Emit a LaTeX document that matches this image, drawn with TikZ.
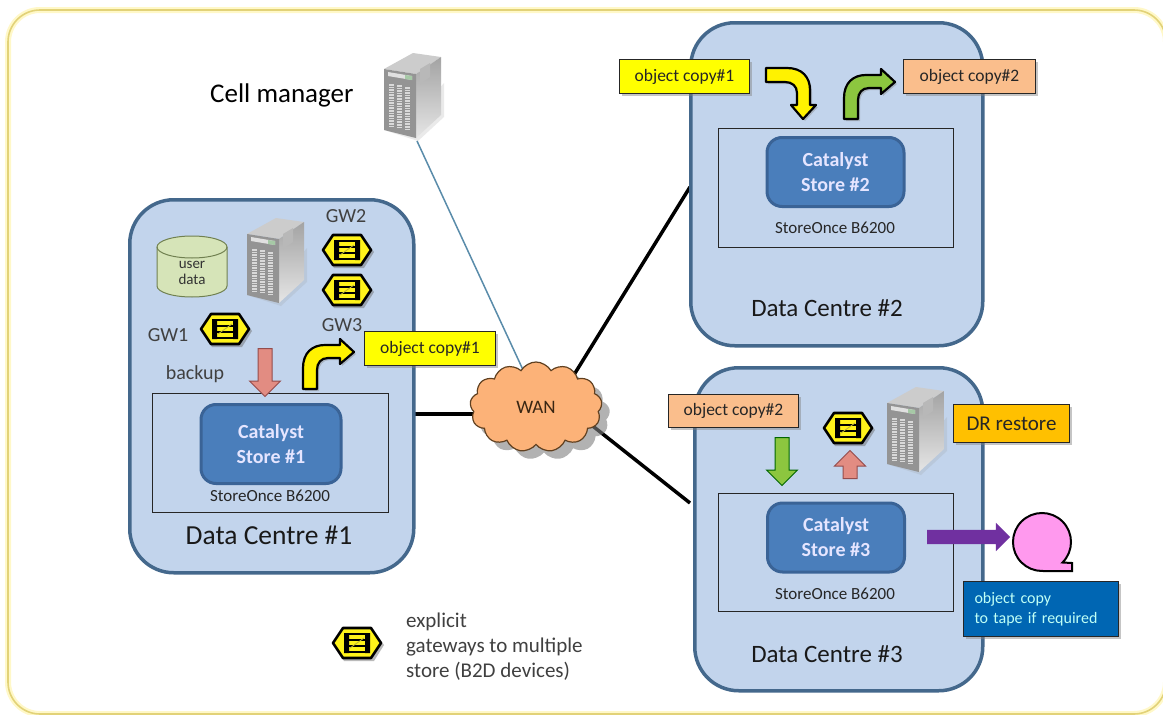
\documentclass[tikz,border=0pt]{standalone}
\usepackage{fontspec}
\setmainfont{Carlito}
\usepackage{tikz}
\usetikzlibrary{positioning,shapes.symbols,shapes.arrows,shadows,backgrounds}
\definecolor{framecolor}{RGB}{226,210,120}
\definecolor{frameglow}{RGB}{255,248,200}
\definecolor{dcfill}{RGB}{194,212,236}
\definecolor{dcline}{RGB}{68,104,140}
\definecolor{storefill}{RGB}{74,126,187}
\definecolor{storeline}{RGB}{58,99,150}
\definecolor{copyyellow}{RGB}{255,255,0}
\definecolor{copyorange}{RGB}{250,190,140}
\definecolor{drorange}{RGB}{255,192,0}
\definecolor{tapeblue}{RGB}{0,102,179}
\definecolor{tapepink}{RGB}{255,153,238}
\definecolor{wanfill}{RGB}{252,178,120}
\definecolor{arrowgreen}{RGB}{140,198,63}
\definecolor{arrowpink}{RGB}{226,140,130}
\definecolor{arrowpurple}{RGB}{112,48,160}
\definecolor{datafill}{RGB}{214,228,184}
\definecolor{dataline}{RGB}{112,128,80}
\definecolor{celllink}{RGB}{90,140,170}
\tikzset{
  pics/gateway/.style={code={
    \fill[black!60,opacity=.45] (-23,2)--(-13,18)--(17,18)--(27,2)--(17,-12)--(-13,-12)--cycle;
    \draw[line width=2.6pt,fill=yellow!90!white,line join=round] (-24,0)--(-14,-15)--(14,-15)--(24,0)--(14,15)--(-14,15)--cycle;
    \fill[black] (-13,-10) rectangle (-8,10) (8,-10) rectangle (13,10);
    \draw[line width=2pt] (-8,-9)--(8,-9) (-8,-3.5)--(8,-3.5) (-8,2.5)--(8,2.5) (-8,9)--(8,9);
    \draw[line width=.8pt,yellow!70!black] (-7,5)--(7,-5);
  }},
  pics/server/.style={code={
    \fill[black!40,opacity=.2] (3,78)--(34,88)--(60,64)--(60,30)--(34,60)--cycle;
    \fill[black!20] (0,16)--(29,0)--(57,4)--(32,21)--cycle;
    \shade[top color=black!36,bottom color=black!10] (32,21)--(57,4)--(57,62)--(32,85)--cycle;
    \fill[black!42] (0,16)--(32,21)--(32,85)--(0,77)--cycle;
    \fill[black!28] (36,16)--(46,10)--(46,24)--(36,31)--cycle;
    \fill[black!12] (4,19)--(28,23)--(28,27)--(4,23)--cycle;
    \fill[green!40!black!35] (21,22)--(28,23)--(28,27)--(21,26)--cycle;
    \draw[line width=5.5pt,white!85!black,dash pattern=on 1.6pt off 1pt] (7.5,31)--(7.5,74) (15.5,32)--(15.5,76) (23.5,34)--(23.5,77);
    \coordinate (-base) at (33,88);
  }},
  pics/bendarrow/.style={code={
    \path[draw=black,line width=2.2pt,line join=round,fill=#1,drop shadow={shadow xshift=2pt,shadow yshift=-2pt,opacity=.4}]
      (0,0)--(0,-21) .. controls (0,-36) and (9,-44) .. (22,-44)--(37,-44)--(37,-50)--(51,-37)--(37,-25)--(37,-31)--(25,-31)
      .. controls (18,-31) and (14,-26) .. (14,-19)--(14,0)--cycle;
  }},
}
\begin{document}
\begin{tikzpicture}[x=1pt,y=-1pt,font=\fontsize{17.5}{21}\selectfont]
 \tikzstyle{dcbox}=[draw=dcline,fill=dcfill,line width=3.5pt,rounded corners=44pt,anchor=north west,inner sep=0pt]
 \tikzstyle{devbox}=[draw=black!85,line width=1pt,anchor=north west,inner sep=0pt]
 \tikzstyle{catalyst}=[draw=storeline,fill=storefill,line width=3pt,rounded corners=15pt,inner sep=0pt,
    text=blue!10!white,align=center,font=\fontsize{20}{25}\selectfont\bfseries]
 \tikzstyle{copybox}=[draw=black!85,line width=1pt,inner sep=0pt,anchor=north west,
    drop shadow={shadow xshift=2.5pt,shadow yshift=-2.5pt,opacity=.45},text=black!85]
 \tikzstyle{downarrow}=[single arrow,rotate=-90,line width=1pt,inner xsep=0pt,inner ysep=6.5pt,minimum width=30pt,
    single arrow head extend=8.5pt,minimum height=48pt]
 \tikzstyle{thickline}=[line width=3.5pt,black]
 \tikzstyle{gwlabel}=[text=black!75,font=\fontsize{20}{24}\selectfont]
 \tikzstyle{dctitle}=[text=black!90,font=\fontsize{25}{30}\selectfont]
 \tikzstyle{b6200}=[text=black!85,font=\fontsize{17}{20}\selectfont]

 \useasboundingbox (0,0) rectangle (1163,715);

 % data centres
 \node[dcbox,minimum width=284pt,minimum height=373pt] (dc1) at (128,198) {};
 \node[dcbox,minimum width=292pt,minimum height=323pt] (dc2) at (689,21) {};
 \node[dcbox,minimum width=288pt,minimum height=323pt] (dc3) at (693,366) {};

 \node[devbox,minimum width=236pt,minimum height=119pt] (box1) at (152,393) {};
 \node[devbox,minimum width=235pt,minimum height=119pt] (box2) at (718,128) {};
 \node[devbox,minimum width=235pt,minimum height=118pt] (box3) at (718,493) {};

 \node[catalyst,minimum width=140pt,minimum height=79pt] (store1) at (271,444) {Catalyst\\Store \#1};
 \node[catalyst,minimum width=137pt,minimum height=69pt] (store2) at (835.5,172) {Catalyst\\Store \#2};
 \node[catalyst,minimum width=137pt,minimum height=69pt] (store3) at (836,537.5) {Catalyst\\Store \#3};

 \node[b6200] (name1) at (270,496) {StoreOnce B6200};
 \node[b6200] (name2) at (835,228) {StoreOnce B6200};
 \node[b6200] (name3) at (835,594) {StoreOnce B6200};

 \node[dctitle,font=\fontsize{27.5}{32}\selectfont] (title1) at (269,535) {Data Centre \#1};
 \node[dctitle] (title2) at (827,308) {Data Centre \#2};
 \node[dctitle] (title3) at (827,654) {Data Centre \#3};

 % wan
 \node[cloud,cloud puffs=13,cloud puff arc=120,aspect=1.5,draw=black!50!brown,fill=wanfill,line width=1.2pt,
    minimum width=132pt,minimum height=90pt,inner sep=0pt,text=black!70!brown,font=\fontsize{19}{22}\selectfont,
    drop shadow={shadow xshift=8pt,shadow yshift=-8pt,opacity=.6}] (wan) at (536,407) {WAN};

 % servers and gateways
 \pic (cellsrv) at (384,53) {server};
 \pic (srv1) at (247,218) {server};
 \pic (srv3) at (887,387) {server};
 \pic (gw1) at (225,329) {gateway};
 \pic (gw2) at (347,250) {gateway};
 \pic (gw3) at (347,290) {gateway};
 \pic (gw4) at (848,428) {gateway};
 \pic (gwkey) at (357,643) {gateway};

 \node[gwlabel] (gw1lab) at (168,335) {GW1};
 \node[gwlabel] (gw2lab) at (346,216) {GW2};
 \node[gwlabel] (gw3lab) at (342,325) {GW3};
 \node[gwlabel] (backup) at (195,374) {backup};

 % user data
 \draw[draw=dataline,fill=datafill,line width=1pt] (157,247) -- (157,286)
    arc[start angle=180,end angle=360,x radius=35pt,y radius=11pt] -- (227,247)
    arc[start angle=0,end angle=180,x radius=35pt,y radius=11pt] -- cycle;
 \draw[draw=dataline,line width=1pt] (157,247) arc[start angle=180,end angle=360,x radius=35pt,y radius=11pt];
 \node[align=center,text=black!80,inner sep=0pt,font=\fontsize{15}{16}\selectfont] (data) at (192,273) {user\\data};

 % copy labels
 \node[copybox,fill=copyyellow,minimum width=131pt,minimum height=34pt] (copy1a) at (364,331) {object copy\#1};
 \node[copybox,fill=copyyellow,minimum width=130pt,minimum height=34pt] (copy1b) at (619,59) {object copy\#1};
 \node[copybox,fill=copyorange,minimum width=132pt,minimum height=34pt] (copy2a) at (903,59) {object copy\#2};
 \node[copybox,fill=copyorange,minimum width=130pt,minimum height=33pt] (copy2b) at (668,394) {object copy\#2};
 \node[copybox,fill=drorange,minimum width=116pt,minimum height=38pt,font=\fontsize{21}{25}\selectfont] (drrestore) at (953,404) {DR restore};
 \node[copybox,fill=tapeblue,text width=133pt,inner xsep=11pt,inner ysep=0pt,minimum width=155pt,minimum height=55pt,align=left,text=green!15!cyan!25!white,
    font=\fontsize{16}{20}\selectfont] (tapenote) at (963,581) {object copy\\to tape if required};

 % arrows
 \node[downarrow,fill=arrowpink,draw=red!40!black!70] (backarrow) at (265,369) {};
 \node[downarrow,fill=arrowgreen,draw=green!40!black] (greendown) at (782,458) {};
 \node[downarrow,rotate=180,fill=arrowpink,draw=red!40!black!70,minimum height=28pt] (restorearrow) at (850,468) {};
 \node[single arrow,fill=arrowpurple,inner xsep=0pt,inner ysep=7pt,minimum width=28pt,single arrow head extend=7pt,minimum height=83pt] (tapearrow) at (965,537) {};

 \pic at (303,389) {bendarrow=yellow};
 \pic at (844,119) {bendarrow=arrowgreen};
 \pic[rotate=-90] at (766,68) {bendarrow=yellow};

 % tape
 \draw[line width=2pt,fill=tapepink,line join=miter] (1062.5,562.5) arc[start angle=-45,end angle=270,radius=29pt]
    -- (1072,571) -- (1072,563) -- cycle;

 % legend
 \node[anchor=north west,align=left,text=black!75,inner sep=0pt,font=\fontsize{21}{25}\selectfont] (keytext) at (406,613) {explicit\\gateways to multiple\\store (B2D devices)};
 \node[anchor=west,text=black,inner sep=0pt,font=\fontsize{27}{32}\selectfont] (cellname) at (210,95) {Cell manager};

 \coordinate (wanw) at (490,414);
 \coordinate (wann) at (524,372);
 \coordinate (wanne) at (572,378);
 \coordinate (wanse) at (575,412);
 \coordinate (dc1e) at (411,414);
 \coordinate (dc2w) at (690,187);
 \coordinate (dc3w) at (690,503);

 \begin{pgfonlayer}{background}
   \fill[white] (0,0) rectangle (1163,715);
   \draw[frameglow,line width=6pt,rounded corners=32pt] (8,10) rectangle (1166,714);
   \draw[framecolor,line width=1.6pt,rounded corners=32pt] (8,10) rectangle (1166,714);
   \draw[thickline] (dc1e)--(wanw);
   \draw[thickline] (wanne)--(dc2w);
   \draw[thickline] (wanse)--(dc3w);
   \draw[line width=1.5pt,color=celllink] (cellsrv-base)--(wann);
 \end{pgfonlayer}
\end{tikzpicture}
\end{document}
